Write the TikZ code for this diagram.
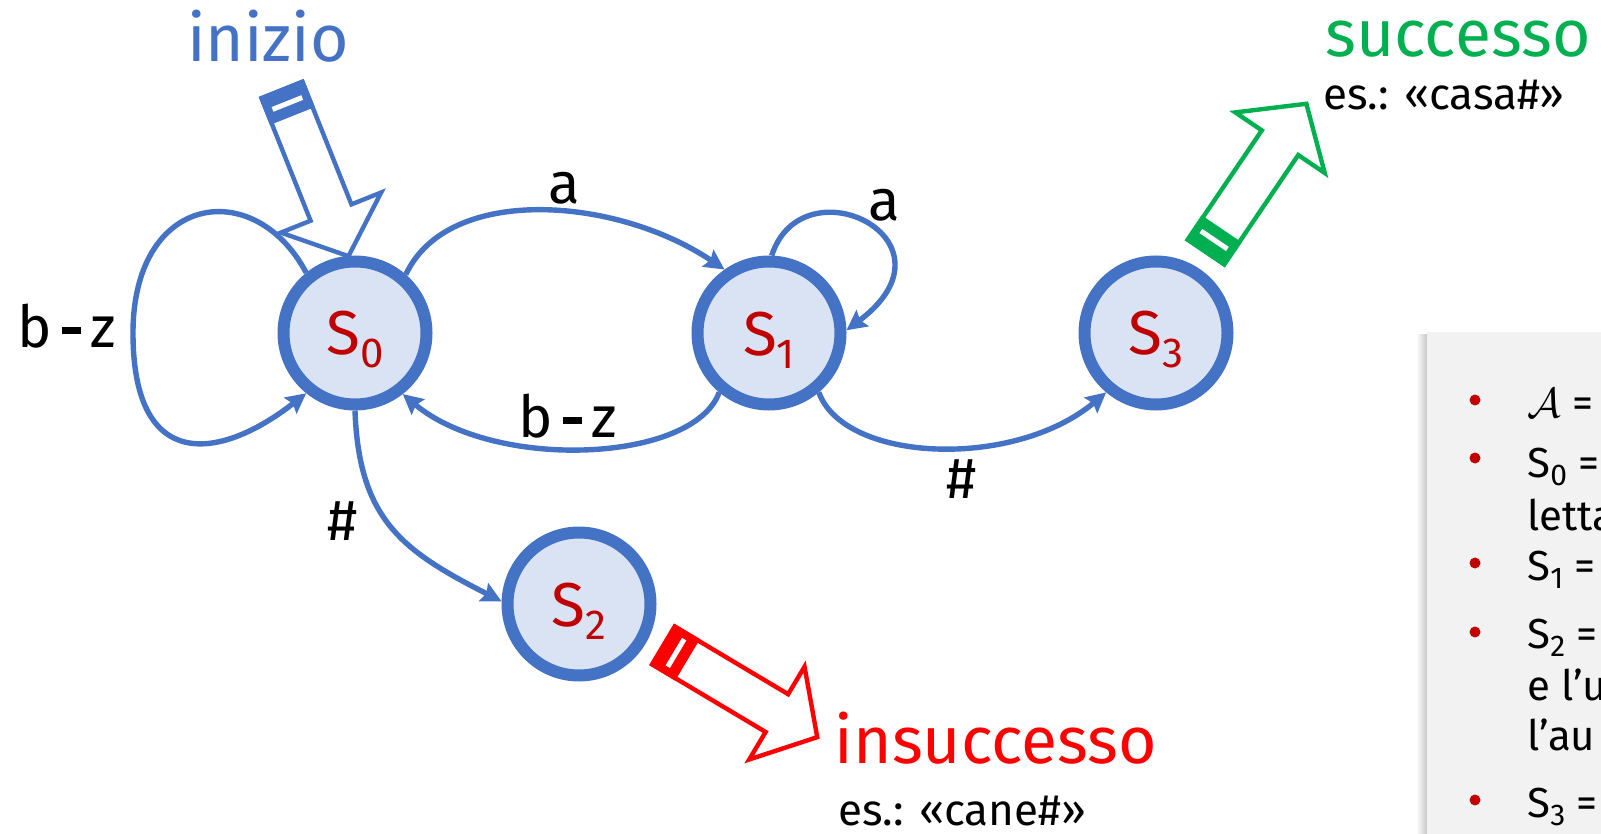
\RequirePackage{fix-cm}
\documentclass[tikz,border=0pt]{standalone}
\usepackage{fontspec}
\setmainfont{Fira Sans}
\usetikzlibrary{arrows.meta}
\definecolor{sblue}{HTML}{4472C4}
\definecolor{sfill}{HTML}{DAE3F3}
\definecolor{sred}{HTML}{C00000}
\definecolor{sgreen}{HTML}{00B050}
\definecolor{fred}{HTML}{FF0000}
\definecolor{panelgray}{HTML}{F2F2F2}
\newcommand{\stsub}[1]{{\fontsize{21}{21}\selectfont\raisebox{-6.5pt}{#1}}}
\newcommand{\pnsub}[1]{{\fontsize{15}{15}\selectfont\raisebox{-4pt}{#1}}}
\newcommand{\bz}{b\hspace{0.16em}\rule[0.22em]{0.34em}{0.12em}\hspace{0.16em}z}
\newcommand{\blockarr}[3]{%
  \begin{scope}[shift={#2}, rotate=#3]
    \draw[line width=2.2pt, draw=#1, fill=white, line join=miter]
      (0,-22) -- (132,-22) -- (132,-54) -- (179,0) -- (132,54) -- (132,22) -- (0,22) -- cycle;
    \fill[#1] (-2.2,-24.2) rectangle (28,24.2);
    \fill[white] (12,-16) rectangle (17,16);
  \end{scope}}
\begin{document}
\begin{tikzpicture}[x=0.5pt, y=0.5pt,
  state/.style={circle, draw=sblue, fill=sfill, line width=6pt, minimum size=71.5pt, inner sep=0pt},
  stlabel/.style={text=sred, font=\fontsize{31}{31}\selectfont, inner sep=0pt},
  edge/.style={draw=sblue, line width=2.7pt, -{Stealth[length=10pt,width=10pt,inset=1.5pt]}},
  elabel/.style={font=\fontsize{29}{29}\selectfont, inner sep=0pt, anchor=base},
  biglabel/.style={font=\fontsize{33}{33}\selectfont, inner sep=0pt, anchor=base},
  exlabel/.style={font=\fontsize{22}{22}\selectfont, inner sep=0pt, anchor=base west},
  ptext/.style={font=\fontsize{21}{21}\selectfont, inner sep=0pt, anchor=base west},
  bullet/.style={circle, fill=sred, inner sep=0pt, minimum size=5.5pt}]
\useasboundingbox (0,0) rectangle (1601,-834);

% states
\node[state] (s0) at (355,-333) {};
\node[state] (s1) at (769,-333) {};
\node[state] (s2) at (579,-604) {};
\node[state] (s3) at (1156,-333) {};
\node[stlabel] (l0) at ([yshift=-3.5pt]s0.center) {S\stsub{0}};
\node[stlabel] (l1) at ([yshift=-3.5pt]s1.center) {S\stsub{1}};
\node[stlabel] (l2) at ([yshift=-3.5pt]s2.center) {S\stsub{2}};
\node[stlabel] (l3) at ([yshift=-3.5pt]s3.center) {S\stsub{3}};

% edges
\coordinate (lp0) at (133,-333);
\draw[edge, -] (s0.129) .. controls +(118:110) and +(90:140) .. (lp0);
\draw[edge] (lp0) .. controls +(-90:140) and +(-142:110) .. (s0.-129);
\draw[edge] (s0.49) .. controls +(65:100) and +(146:130) .. (s1.125);
\draw[edge] (s1.-130) .. controls +(-110:75) and +(-40:120) .. (s0.-52);
\draw[edge] (s1.88) .. controls +(72:100) and +(37:150) .. (s1.2);
\draw[edge] (s1.-50) .. controls +(-70:75) and +(-140:120) .. (s3.-130);
\draw[edge] (s0.-90) .. controls +(-88:110) and +(153:110) .. (s2.178);

% edge labels
\node[elabel] (ta) at (564,-204) {a};
\node[elabel] (ta2) at (884,-221) {a};
\node[elabel] (tbz) at (568,-437) {\bz};
\node[elabel] (tbz0) at (67,-347) {\bz};
\node[elabel] (th1) at (962,-498) {\#};
\node[elabel] (th0) at (343,-540) {\#};

% block arrows
\blockarr{sblue}{(282,-90)}{-68.2}
\blockarr{sgreen}{(1206,-252)}{55.9}
\blockarr{fred}{(663.5,-645.5)}{-30.8}

% big labels
\node[biglabel, text=sblue] (tin) at (268,-62) {inizio};
\node[biglabel, text=sgreen] (tsu) at (1458,-57) {successo};
\node[exlabel] (tes1) at (1323,-110) {es.: «casa\#»};
\node[biglabel, text=fred] (tins) at (996,-763) {insuccesso};
\node[exlabel] (tes2) at (838,-825) {es.: «cane\#»};

% panel
\begin{scope}
\clip (1400,-320) rectangle (1601,-834);
\shade[left color=white, right color=black!22] (1416,-334) rectangle (1427,-834);
\fill[panelgray] (1427,-332) rectangle (1601,-834);
\node[bullet] (b1) at (1475,-400) {};
\node[bullet] (b2) at (1475,-458) {};
\node[bullet] (b3) at (1475,-563) {};
\node[bullet] (b4) at (1475,-632) {};
\node[bullet] (b5) at (1475,-800) {};
\node[ptext] (p1) at (1527,-417) {$\mathcal{A}$ =};
\node[ptext] (p2) at (1527,-477) {S\pnsub{0} =};
\node[ptext] (p2b) at (1527,-530) {letta};
\node[ptext] (p3) at (1527,-580) {S\pnsub{1} =};
\node[ptext] (p4) at (1527,-648) {S\pnsub{2} =};
\node[ptext] (p4b) at (1527,-700) {e l’u};
\node[ptext] (p4c) at (1527,-750) {l’au};
\node[ptext] (p5) at (1527,-817) {S\pnsub{3} =};
\end{scope}
\end{tikzpicture}
\end{document}
